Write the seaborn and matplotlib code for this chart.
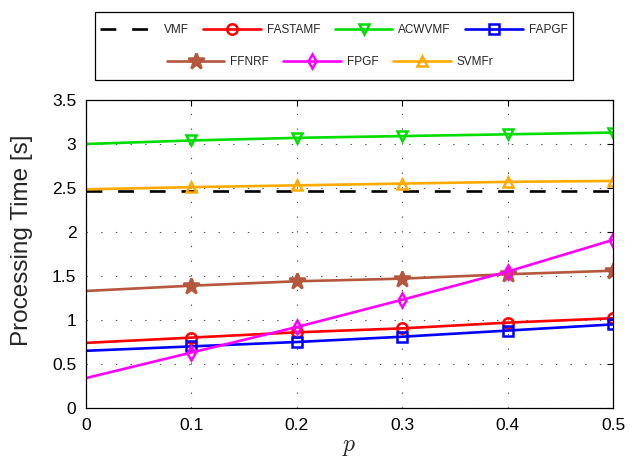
import matplotlib
matplotlib.use("Agg")
import matplotlib.pyplot as plt
import pandas as pd
import seaborn as sns
from matplotlib.patches import Rectangle

# data
p = [0.0, 0.1, 0.2, 0.3, 0.4, 0.5]
vmf = [2.47, 2.47, 2.47, 2.47, 2.47, 2.47]
fastamf = [0.74, 0.80, 0.86, 0.905, 0.97, 1.02]
acwvmf = [3.00, 3.04, 3.07, 3.09, 3.11, 3.13]
fapgf = [0.65, 0.70, 0.75, 0.81, 0.88, 0.95]
ffnrf = [1.33, 1.39, 1.44, 1.47, 1.52, 1.56]
fpgf = [0.34, 0.63, 0.92, 1.23, 1.55, 1.91]
svmfr = [2.485, 2.51, 2.53, 2.55, 2.57, 2.58]

methods = ["VMF", "FASTAMF", "ACWVMF", "FAPGF", "FFNRF", "FPGF", "SVMFr"]
series = [vmf, fastamf, acwvmf, fapgf, ffnrf, fpgf, svmfr]
colors = ["black", "#FF0000", "#00DD00", "#0000FF", "#B5573C", "#FF00FF", "#FFAA00"]
markers = [None, "o", "v", "s", "*", "d", "^"]

x_ticks = [0, 0.1, 0.2, 0.3, 0.4, 0.5]
x_labels = ["0", "0.1", "0.2", "0.3", "0.4", "0.5"]
y_ticks = [0, 0.5, 1, 1.5, 2, 2.5, 3, 3.5]
y_labels = ["0", "0.5", "1", "1.5", "2", "2.5", "3", "3.5"]

df = pd.DataFrame({
    "p": p * len(methods),
    "time": [v for s in series for v in s],
    "method": [m for m in methods for _ in p],
})

sns.set_style("white")
plt.rcParams["font.family"] = ["Liberation Sans", "DejaVu Sans"]
plt.rcParams["mathtext.fontset"] = "cm"

fig = plt.figure(figsize=(6.3, 4.59), dpi=100)
ax = fig.add_axes([86 / 630, 51 / 459, 527 / 630, 308 / 459])

handles = []
for m, c, mk in zip(methods, colors, markers):
    sub = df[df["method"] == m]
    kw = dict(color=c, linewidth=1.9, errorbar=None, legend=False, ax=ax)
    if mk is None:
        kw["dashes"] = False
        sns.lineplot(data=sub, x="p", y="time", linestyle=(0, (6, 6)), **kw)
    else:
        filled = mk == "*"
        sns.lineplot(data=sub, x="p", y="time", marker=mk,
                     markersize=12 if filled else 7.5,
                     markerfacecolor=c if filled else "none",
                     markeredgecolor=c, markeredgewidth=1.8,
                     markevery=[1, 2, 3, 4, 5], **kw)
    handles.append(ax.lines[-1])

ax.set_xlim(0, 0.5)
ax.set_ylim(0, 3.5)
ax.set_xticks(x_ticks)
ax.set_xticklabels(x_labels)
ax.set_yticks(y_ticks)
ax.set_yticklabels(y_labels)
ax.tick_params(direction="in", length=4, width=0.8, top=True, right=True,
               labelsize=12.5, pad=7, colors="black")
for s in ax.spines.values():
    s.set_visible(True)
    s.set_color("black")
    s.set_linewidth(0.9)
ax.grid(True, linestyle=(0, (1.2, 12)), linewidth=0.8, color="0.3")
ax.set_axisbelow(True)

ax.set_xlabel("$p$", fontsize=17, labelpad=2)
ax.set_ylabel("Processing Time [s]", fontsize=17.5)
ax.yaxis.set_label_coords(-0.10, 0.545)

# legend: two rows inside one box, like the original
leg_kw = dict(frameon=False, fontsize=8.5, handlelength=4.9, handletextpad=0.5,
              columnspacing=1.2, borderpad=0, loc="center")
leg1 = fig.legend(handles[:4], methods[:4], ncol=4,
                  bbox_to_anchor=(334 / 630, 1 - 30 / 459), **leg_kw)
leg2 = fig.legend(handles[4:], methods[4:], ncol=3,
                  bbox_to_anchor=(330 / 630, 1 - 62 / 459), **leg_kw)
fig.add_artist(Rectangle((95 / 630, 1 - 80 / 459), 478 / 630, 68 / 459,
                         transform=fig.transFigure, fill=False,
                         edgecolor="black", linewidth=0.9))

fig.savefig("out.png", dpi=100)
